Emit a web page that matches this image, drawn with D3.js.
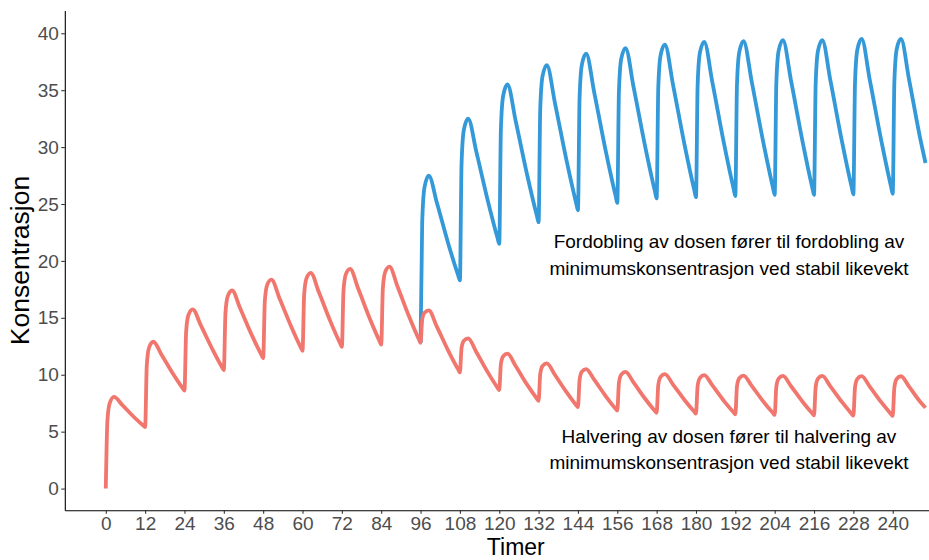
<!DOCTYPE html>
<html>
<head>
<meta charset="utf-8">
<script src="https://cdn.jsdelivr.net/npm/d3@7"></script>
<style>
  body { margin: 0; background: #fff; }
  svg { display: block; font-family: "Liberation Sans", Arial, sans-serif; }
</style>
</head>
<body>
<div id="chart"></div>
<script>
// Hours and concentration, original dose then halved dose from 96 h
const redSeries = [
  [0,0],[0.5,6.0],[1.2,7.5],[2.5,8.05],[5,7.35],[8.5,6.31],[11.5,5.52],
  [12,5.4],[12.5,10.8],[13.2,12.38],[14.5,12.9],[17,11.76],[20.5,10.08],[23.5,8.79],
  [24,8.6],[24.5,13.75],[25.2,15.25],[26.5,15.75],[29,14.33],[32.5,12.25],[35.5,10.64],
  [36,10.4],[36.5,15.44],[37.2,16.91],[38.5,17.4],[41,15.82],[44.5,13.5],[47.5,11.72],
  [48,11.45],[48.5,16.42],[49.2,17.87],[50.5,18.35],[53,16.7],[56.5,14.26],[59.5,12.38],
  [60,12.1],[60.5,17.03],[61.2,18.47],[62.5,18.95],[65,17.24],[68.5,14.69],[71.5,12.74],
  [72,12.45],[72.5,17.38],[73.2,18.82],[74.5,19.3],[77,17.55],[80.5,14.94],[83.5,12.95],
  [84,12.65],[84.5,17.58],[85.2,19.02],[86.5,19.5],[89,17.73],[92.5,15.11],[95.5,13.1],
  [96,12.8],[96.5,14.85],[97.2,15.45],[98.5,15.65],[101,14.2],[104.5,12.08],[107.5,10.45],
  [108,10.2],[108.5,12.36],[109.2,12.99],[110.5,13.2],[113,12.0],[116.5,10.22],[119.5,8.85],
  [120,8.65],[120.5,10.95],[121.2,11.63],[122.5,11.85],[125,10.76],[128.5,9.13],[131.5,7.89],
  [132,7.7],[132.5,10.08],[133.2,10.77],[134.5,11.0],[137,9.98],[140.5,8.48],[143.5,7.32],
  [144,7.15],[144.5,9.56],[145.2,10.27],[146.5,10.5],[149,9.54],[152.5,8.11],[155.5,7.01],
  [156,6.85],[156.5,9.3],[157.2,10.01],[158.5,10.25],[161,9.3],[164.5,7.89],[167.5,6.81],
  [168,6.65],[168.5,9.1],[169.2,9.81],[170.5,10.05],[173,9.14],[176.5,7.78],[179.5,6.74],
  [180,6.58],[180.5,9.02],[181.2,9.73],[182.5,9.97],[185,9.06],[188.5,7.71],[191.5,6.68],
  [192,6.52],[192.5,8.98],[193.2,9.69],[194.5,9.93],[197,9.02],[200.5,7.66],[203.5,6.63],
  [204,6.47],[204.5,8.94],[205.2,9.66],[206.5,9.9],[209,8.99],[212.5,7.63],[215.5,6.59],
  [216,6.43],[216.5,8.93],[217.2,9.66],[218.5,9.9],[221,8.98],[224.5,7.61],[227.5,6.56],
  [228,6.4],[228.5,8.91],[229.2,9.64],[230.5,9.88],[233,8.96],[236.5,7.59],[239.5,6.54],
  [240,6.38],[240.5,8.89],[241.2,9.63],[242.5,9.87],[245,8.95],[248.5,7.58],[250,7.1]
]

// Doubled dose from 96 h
const blueSeries = [
  [96,12.8],[96.5,23.38],[97.2,26.47],[98.5,27.5],[101,25.08],[104.5,21.47],[107.5,18.71],
  [108,18.3],[108.5,28.52],[109.2,31.51],[110.5,32.5],[113,29.6],[116.5,25.3],[119.5,21.99],
  [120,21.5],[120.5,31.58],[121.2,34.52],[122.5,35.5],[125,32.31],[128.5,27.57],[131.5,23.94],
  [132,23.4],[132.5,33.34],[133.2,36.23],[134.5,37.2],[137,33.85],[140.5,28.85],[143.5,25.02],
  [144,24.45],[144.5,34.35],[145.2,37.24],[146.5,38.2],[149,34.75],[152.5,29.62],[155.5,25.69],
  [156,25.1],[156.5,34.89],[157.2,37.75],[158.5,38.7],[161,35.22],[164.5,30.05],[167.5,26.09],
  [168,25.5],[168.5,35.22],[169.2,38.06],[170.5,39.0],[173,35.47],[176.5,30.22],[179.5,26.2],
  [180,25.6],[180.5,35.43],[181.2,38.29],[182.5,39.25],[185,35.68],[188.5,30.37],[191.5,26.31],
  [192,25.7],[192.5,35.49],[193.2,38.35],[194.5,39.3],[197,35.74],[200.5,30.46],[203.5,26.41],
  [204,25.8],[204.5,35.59],[205.2,38.45],[206.5,39.4],[209,35.81],[212.5,30.49],[215.5,26.41],
  [216,25.8],[216.5,35.59],[217.2,38.45],[218.5,39.4],[221,35.83],[224.5,30.52],[227.5,26.46],
  [228,25.85],[228.5,35.68],[229.2,38.54],[230.5,39.5],[233,35.91],[236.5,30.59],[239.5,26.51],
  [240,25.9],[240.5,35.73],[241.2,38.59],[242.5,39.5],[245,35.91],[248.5,30.59],[250,28.6]
]

const xTicks = [0,12,24,36,48,60,72,84,96,108,120,132,144,156,168,180,192,204,216,228,240]
const yTicks = [0,5,10,15,20,25,30,35,40]

const notes = [
  { lines: ["Fordobling av dosen fører til fordobling av", "minimumskonsentrasjon ved stabil likevekt"], y: 248 },
  { lines: ["Halvering av dosen fører til halvering av", "minimumskonsentrasjon ved stabil likevekt"], y: 442.5 }
]

const width = 929
const height = 560

const svg = d3.select("#chart").append("svg")
  .attr("width", width)
  .attr("height", height)

// Scales (panel runs past the right edge, like the cropped original)
const x = d3.scaleLinear()
  .domain([-12.5, 262.5])
  .range([64.8, 966.5])

const y = d3.scaleLinear()
  .domain([-1.9, 42])
  .range([510.2, 10.5])

const line = d3.line()
  .x(d => x(d[0]))
  .y(d => y(d[1]))
  .curve(d3.curveMonotoneX)

// Lines: blue first so the red sits on top at 96 h
svg.append("path")
  .datum(blueSeries)
  .attr("fill", "none")
  .attr("stroke", "#3399D8")
  .attr("stroke-width", 3.8)
  .attr("stroke-linejoin", "round")
  .attr("d", line)

svg.append("path")
  .datum(redSeries)
  .attr("fill", "none")
  .attr("stroke", "#F1766D")
  .attr("stroke-width", 3.8)
  .attr("stroke-linejoin", "round")
  .attr("d", line)

// Axes
svg.append("g")
  .attr("transform", "translate(" + x(-12.5) + ",0)")
  .call(d3.axisLeft(y).tickValues(yTicks).tickSizeInner(3.5).tickSizeOuter(0).tickPadding(2.5))

svg.append("g")
  .attr("transform", "translate(0," + y(-1.9) + ")")
  .call(d3.axisBottom(x).tickValues(xTicks).tickSizeInner(3.5).tickSizeOuter(0).tickPadding(3))

svg.selectAll(".domain").attr("stroke", "#000").attr("stroke-width", 1.1)
svg.selectAll(".tick line").attr("stroke", "#333").attr("stroke-width", 1.1)
svg.selectAll(".tick text")
  .attr("fill", "#4D4D4D")
  .style("font-size", "19px")
  .style("font-family", "'Liberation Sans', Arial, sans-serif")

// Axis titles
svg.append("text")
  .attr("x", 515.8)
  .attr("y", 555)
  .attr("text-anchor", "middle")
  .style("font-size", "23px")
  .attr("fill", "#000")
  .text("Timer")

svg.append("text")
  .attr("transform", "translate(29,260.5) rotate(-90)")
  .attr("text-anchor", "middle")
  .style("font-size", "26.5px")
  .attr("fill", "#000")
  .text("Konsentrasjon")

// Annotations
notes.forEach(n => {
  svg.append("text")
    .attr("text-anchor", "middle")
    .style("font-size", "19px")
    .attr("fill", "#000")
    .selectAll("tspan")
    .data(n.lines)
    .join("tspan")
    .attr("x", 729)
    .attr("y", (d, i) => n.y + i * 26.5)
    .text(d => d)
})
</script>
</body>
</html>
